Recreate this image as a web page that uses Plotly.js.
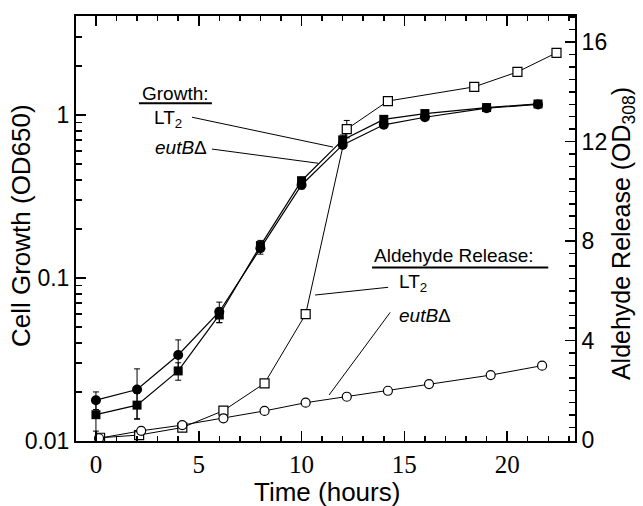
<!DOCTYPE html>
<html>
<head>
<meta charset="utf-8">
<script src="https://cdn.plot.ly/plotly-3.0.1.min.js"></script>
<style>
  body { margin: 0; background: #fff; }
  #chart { width: 643px; height: 506px; }
</style>
</head>
<body>
<div id="chart"></div>
<script>
// growth, left axis (OD650, log)
var tGrowLT2 = [0, 2, 4, 6, 8, 10, 12, 14, 16, 19, 21.5];
var growLT2 = [0.0178, 0.0207, 0.0337, 0.0621, 0.152, 0.372, 0.655, 0.87, 0.968, 1.10, 1.16];
var errLT2 = [0.0022, 0.007, 0.008, 0.009, 0.012, 0.02, 0.03, 0.03, 0.03, 0.02, 0.01];

var tGrowEut = [0, 2, 4, 6, 8, 10, 12, 14, 16, 19, 21.5];
var growEut = [0.0145, 0.0166, 0.0269, 0.0593, 0.158, 0.395, 0.703, 0.94, 1.02, 1.11, 1.168];
var errEut = [0.003, 0.003, 0.0033, 0.006, 0.012, 0.02, 0.05, 0.05, 0.03, 0.02, 0.01];

// aldehyde release, right axis (OD308)
var tAldLT2 = [0.2, 2.1, 4.2, 6.2, 8.2, 10.2, 12.2, 14.2, 18.4, 20.5, 22.4];
var aldLT2 = [0.09, 0.2, 0.5, 1.18, 2.28, 5.06, 12.5, 13.63, 14.2, 14.8, 15.57];
var errAldLT2 = [0, 0, 0, 0, 0, 0, 0.35, 0, 0, 0, 0];

var tAldEut = [0.15, 2.2, 4.2, 6.2, 8.2, 10.2, 12.2, 14.2, 16.2, 19.2, 21.7];
var aldEut = [0.07, 0.37, 0.6, 0.87, 1.17, 1.5, 1.74, 1.98, 2.25, 2.61, 2.99];

var xTicks = [0, 5, 10, 15, 20];
var leftTicks = [0.01, 0.1, 1];
var leftTickText = ['0.01', '0.1', '1'];
var rightTicks = [0, 4, 8, 12, 16];

var sans = 'Liberation Sans, Arial, sans-serif';
var serif = 'Liberation Serif, Times New Roman, serif';

function errBar(arr) {
  return {type: 'data', array: arr, visible: true, color: '#000', thickness: 1, width: 3};
}

var trGrowLT2 = {
  x: tGrowLT2, y: growLT2, yaxis: 'y', type: 'scatter', mode: 'lines+markers',
  line: {color: '#000', width: 1.2},
  marker: {symbol: 'circle', size: 10, color: '#000'},
  error_y: errBar(errLT2), showlegend: false
};
var trGrowEut = {
  x: tGrowEut, y: growEut, yaxis: 'y', type: 'scatter', mode: 'lines+markers',
  line: {color: '#000', width: 1.2},
  marker: {symbol: 'square', size: 9, color: '#000'},
  error_y: errBar(errEut), showlegend: false
};
var trAldLT2 = {
  x: tAldLT2, y: aldLT2, yaxis: 'y2', type: 'scatter', mode: 'lines+markers',
  line: {color: '#000', width: 1},
  marker: {symbol: 'square', size: 9, color: '#fff', line: {color: '#000', width: 1.2}},
  error_y: errBar(errAldLT2), showlegend: false
};
var trAldEut = {
  x: tAldEut, y: aldEut, yaxis: 'y2', type: 'scatter', mode: 'lines+markers',
  line: {color: '#000', width: 1},
  marker: {symbol: 'circle', size: 9, color: '#fff', line: {color: '#000', width: 1.2}},
  showlegend: false
};

var data = [trGrowLT2, trGrowEut, trAldLT2, trAldEut];

function lineShape(x0, y0, x1, y1, w) {
  return {type: 'line', xref: 'x', yref: 'y2', x0: x0, y0: y0, x1: x1, y1: y1,
          line: {color: '#000', width: w || 1}};
}
function label(text, x, y) {
  return {text: text, xref: 'x', yref: 'y2', x: x, y: y, xanchor: 'left', yanchor: 'middle',
          showarrow: false, font: {family: sans, size: 19, color: '#000'}};
}

var layout = {
  width: 643, height: 506,
  margin: {l: 76, r: 68, t: 16, b: 65},
  paper_bgcolor: '#fff', plot_bgcolor: '#fff',
  font: {family: sans, color: '#000'},
  xaxis: {
    range: [-0.97, 23.3], tickvals: xTicks, ticks: 'inside', ticklen: 10, tickwidth: 1.5,
    tickcolor: '#000', showline: true, linewidth: 2, linecolor: '#000', mirror: 'ticks',
    showgrid: false, zeroline: false,
    minor: {dtick: 1, tick0: 0, ticks: 'inside', ticklen: 5, tickwidth: 1.5, tickcolor: '#000', showgrid: false},
    tickfont: {family: serif, size: 25, color: '#000'}
  },
  yaxis: {
    type: 'log', range: [-2, 0.607], tickvals: leftTicks, ticktext: leftTickText,
    ticks: 'inside', ticklen: 10, tickwidth: 1.5, tickcolor: '#000',
    showline: true, linewidth: 2, linecolor: '#000', showgrid: false, zeroline: false,
    minor: {dtick: 'D1', ticks: 'inside', ticklen: 6, tickwidth: 1.5, tickcolor: '#000', showgrid: false},
    tickfont: {family: sans, size: 23, color: '#000'}
  },
  yaxis2: {
    overlaying: 'y', side: 'right', range: [-0.04, 17.05], tickvals: rightTicks,
    ticks: 'inside', ticklen: 10, tickwidth: 1.5, tickcolor: '#000',
    showline: true, linewidth: 2, linecolor: '#000', showgrid: false, zeroline: false,
    minor: {dtick: 0.5, tick0: 0, ticks: 'inside', ticklen: 6, tickwidth: 1.5, tickcolor: '#000', showgrid: false},
    tickfont: {family: sans, size: 23, color: '#000'}
  },
  shapes: [
    lineShape(2.09, 13.545, 5.64, 13.545, 2),
    lineShape(4.67, 12.98, 11.53, 11.78),
    lineShape(5.64, 11.70, 10.80, 11.13),
    lineShape(13.43, 6.94, 22.0, 6.94, 2),
    lineShape(14.21, 6.14, 10.66, 5.83),
    lineShape(14.31, 5.13, 11.34, 1.81)
  ],
  annotations: [
    label('Growth:', 2.15, 13.95),
    label('LT<sub>2</sub>', 2.72, 12.90),
    label('<i>eutB</i>Δ', 2.77, 11.76),
    label('Aldehyde Release:', 13.45, 7.40),
    label('LT<sub>2</sub>', 14.65, 6.30),
    label('<i>eutB</i>Δ', 14.65, 5.02),
    {text: 'Time (hours)', xref: 'paper', yref: 'paper', x: 0.503, y: -0.12,
     xanchor: 'center', yanchor: 'middle', showarrow: false,
     font: {family: sans, size: 26, color: '#000'}},
    {text: 'Cell Growth (OD650)', xref: 'paper', yref: 'paper', x: -0.110, y: 0.506,
     xanchor: 'center', yanchor: 'middle', textangle: -90, showarrow: false,
     font: {family: sans, size: 26, color: '#000'}},
    {text: 'Aldehyde Release (OD<sub>308</sub>)', xref: 'paper', yref: 'paper', x: 1.096, y: 0.489,
     xanchor: 'center', yanchor: 'middle', textangle: -90, showarrow: false,
     font: {family: sans, size: 25, color: '#000'}}
  ]
};

Plotly.newPlot('chart', data, layout, {staticPlot: true});
</script>
</body>
</html>
